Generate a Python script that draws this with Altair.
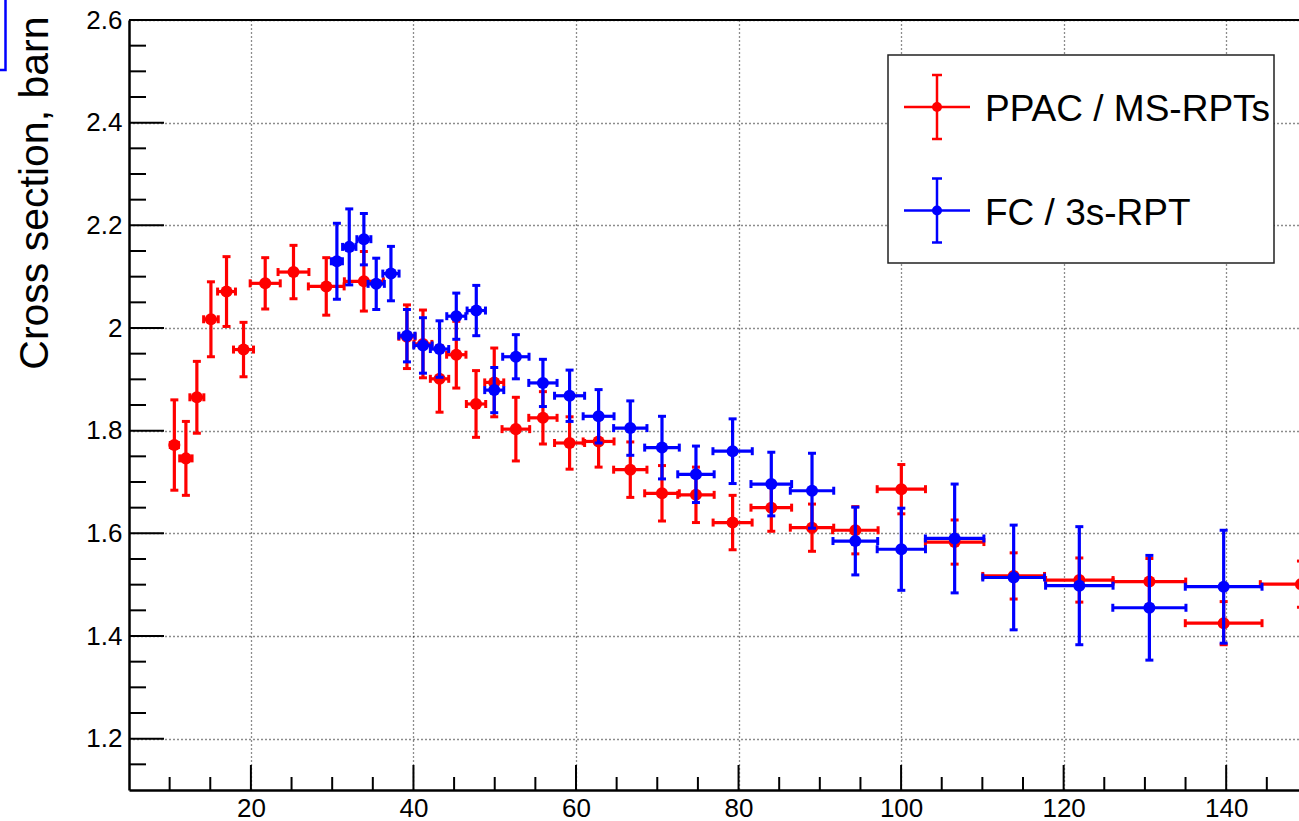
import altair as alt
import pandas as pd

# PPAC / MS-RPTs : energy (x), cross section (y), half-widths
red_x = [10.58, 12.0, 13.35, 15.08, 17.0, 19.09, 21.76, 25.24, 29.27, 33.9,
         39.2, 41.17, 43.21, 45.27, 47.7, 49.94, 52.6, 55.93, 59.21, 62.78,
         66.68, 70.58, 74.76, 79.27, 84.03, 89.04, 94.37, 100.03, 106.59, 113.85,
         121.93, 130.55, 139.69, 149.2]
red_y = [1.772, 1.746, 1.865, 2.017, 2.071, 1.958, 2.087, 2.109, 2.081, 2.091,
         1.983, 1.969, 1.901, 1.948, 1.852, 1.894, 1.803, 1.825, 1.776, 1.779,
         1.724, 1.678, 1.675, 1.621, 1.650, 1.611, 1.606, 1.686, 1.583, 1.517,
         1.509, 1.506, 1.425, 1.501]
red_ex = [0.5, 0.76, 0.86, 0.9, 1.1, 1.23, 1.85, 1.9, 2.2, 2.4,
          1.0, 1.1, 1.13, 1.19, 1.19, 1.17, 1.7, 1.74, 1.85, 1.9,
          2.05, 2.13, 2.24, 2.4, 2.5, 2.67, 2.8, 2.97, 3.6, 3.8,
          4.15, 4.47, 4.72, 5.0]
red_ey = [0.088, 0.072, 0.070, 0.073, 0.068, 0.053, 0.050, 0.052, 0.056, 0.058,
          0.062, 0.066, 0.065, 0.065, 0.065, 0.067, 0.062, 0.051, 0.051, 0.050,
          0.054, 0.054, 0.054, 0.053, 0.046, 0.046, 0.046, 0.048, 0.043, 0.045,
          0.043, 0.045, 0.042, 0.045]

# FC / 3s-RPT
blue_x = [30.58, 32.1, 33.9, 35.42, 37.23, 39.2, 41.17, 43.21, 45.27, 47.73,
          49.94, 52.6, 55.93, 59.21, 62.78, 66.68, 70.58, 74.76, 79.27, 84.03,
          89.04, 94.37, 100.03, 106.59, 113.85, 121.93, 130.55, 139.69]
blue_y = [2.130, 2.158, 2.173, 2.086, 2.106, 1.985, 1.966, 1.959, 2.023, 2.034,
          1.879, 1.944, 1.893, 1.868, 1.828, 1.805, 1.767, 1.715, 1.760, 1.696,
          1.683, 1.585, 1.569, 1.590, 1.514, 1.498, 1.455, 1.496]
blue_ex = [0.68, 0.82, 0.86, 1.0, 1.0, 1.0, 1.13, 1.13, 1.17, 1.13,
           1.17, 1.62, 1.74, 1.85, 1.9, 2.05, 2.13, 2.24, 2.42, 2.5,
           2.67, 2.75, 2.97, 3.6, 3.8, 4.15, 4.5, 4.72]
blue_ey = [0.074, 0.074, 0.050, 0.050, 0.053, 0.051, 0.054, 0.055, 0.045, 0.049,
           0.044, 0.043, 0.046, 0.050, 0.052, 0.053, 0.061, 0.055, 0.063, 0.062,
           0.073, 0.066, 0.080, 0.106, 0.102, 0.115, 0.102, 0.110]

series_names = ["PPAC / MS-RPTs", "FC / 3s-RPT"]
series_colors = ["#ff0000", "#0000ff"]

# axis tick values
x_major = [20, 40, 60, 80, 100, 120, 140]
x_minor = [10, 15, 25, 30, 35, 45, 50, 55, 65, 70, 75, 85, 90, 95,
           105, 110, 115, 125, 130, 135, 145]
y_major = [1.2, 1.4, 1.6, 1.8, 2.0, 2.2, 2.4, 2.6]
y_minor = [1.15, 1.25, 1.3, 1.35, 1.45, 1.5, 1.55, 1.65, 1.7, 1.75, 1.85,
           1.9, 1.95, 2.05, 2.1, 2.15, 2.25, 2.3, 2.35, 2.45, 2.5, 2.55]

FONT = "Liberation Sans"
W, H = 1170, 770
xs = alt.Scale(domain=[5, 148.96], nice=False, zero=False)
ys = alt.Scale(domain=[1.1, 2.6], nice=False, zero=False)

common_axis = dict(
    ticks=False,
    labelFont=FONT, labelFontSize=26, labelColor="black", labelFlush=False,
    labelFontWeight="normal",
    domainColor="black", domainWidth=2.5,
    grid=True, gridColor="black", gridDash=[1, 3], gridWidth=1.3, gridOpacity=0.9,
)

# the same axis definition is given to every layer, so the shared axis merges cleanly
x_axis = alt.Axis(values=x_major, format="d", title="",
                  labelPadding=5, labelBaseline="top", **common_axis)
y_axis = alt.Axis(values=y_major, format=".1~f", labelPadding=7,
                  title="Cross section, barn", titleFont=FONT, titleFontSize=41,
                  titleFontWeight="normal", titleColor="black",
                  titleAngle=270, titleAlign="right", titleBaseline="alphabetic",
                  titleX=-82, titleY=-4, **common_axis)


def XN(f):
    return alt.X(f"{f}:Q", scale=xs, axis=x_axis)


def YN(f):
    return alt.Y(f"{f}:Q", scale=ys, axis=y_axis)


def frame_layers():
    ymaj = alt.Chart(pd.DataFrame({"v": y_major})).mark_rule(
        color="black", strokeWidth=2).encode(
        y=YN("v"), x=alt.value(0), x2=alt.value(35))
    ymin = alt.Chart(pd.DataFrame({"v": y_minor})).mark_rule(
        color="black", strokeWidth=2).encode(
        y=YN("v"), x=alt.value(0), x2=alt.value(17))
    xmaj = alt.Chart(pd.DataFrame({"v": x_major})).mark_rule(
        color="black", strokeWidth=2).encode(
        x=XN("v"), y=alt.value(H), y2=alt.value(H - 25))
    xmin = alt.Chart(pd.DataFrame({"v": x_minor})).mark_rule(
        color="black", strokeWidth=2).encode(
        x=XN("v"), y=alt.value(H), y2=alt.value(H - 13))
    top = alt.Chart(pd.DataFrame({"v": [0]})).mark_rule(
        color="black", strokeWidth=2).encode(
        x=alt.value(0), x2=alt.value(W), y=alt.value(0))
    corner = alt.Chart(pd.DataFrame({"v": [0]})).mark_rect(
        fill="transparent", stroke="#0000ff", strokeWidth=2.5).encode(
        x=alt.value(-150), x2=alt.value(-123.5), y=alt.value(-40), y2=alt.value(50))
    return [ymaj, ymin, xmaj, xmin, top, corner]


def series_layers(xv, yv, exv, eyv, color):
    df = pd.DataFrame({"x": xv, "y": yv, "ex": exv, "ey": eyv})
    base = alt.Chart(df).transform_calculate(
        xlo="datum.x - datum.ex", xhi="datum.x + datum.ex",
        ylo="datum.y - datum.ey", yhi="datum.y + datum.ey")

    vbar = base.mark_rule(color=color, strokeWidth=3.2, clip=True).encode(
        x=XN("x"), y=YN("ylo"), y2="yhi:Q")
    hbar = base.mark_rule(color=color, strokeWidth=3.2, clip=True).encode(
        x=XN("xlo"), x2="xhi:Q", y=YN("y"))
    caps = []
    for f in ("ylo", "yhi"):
        caps.append(base.mark_tick(color=color, orient="horizontal", size=8,
                                   thickness=3, opacity=1, clip=True).encode(
            x=XN("x"), y=YN(f)))
    for f in ("xlo", "xhi"):
        caps.append(base.mark_tick(color=color, orient="vertical", size=8,
                                   thickness=3, opacity=1, clip=True).encode(
            x=XN(f), y=YN("y")))
    pts = base.mark_circle(color=color, size=145, opacity=1, clip=True).encode(
        x=XN("x"), y=YN("y"))
    return [vbar, hbar] + caps + [pts]


def legend_layers():
    box = alt.Chart(pd.DataFrame({"v": [0]})).mark_rect(
        fill="white", stroke="#222222", strokeWidth=1.5).encode(
        x=alt.value(759), x2=alt.value(1145), y=alt.value(35), y2=alt.value(243))
    out = [box]
    cx = 808
    for name, color, cy in zip(series_names, series_colors, [87, 190.5]):
        c = alt.Chart(pd.DataFrame({"label": [name]}))
        out += [
            c.mark_rule(color=color, strokeWidth=2.5).encode(
                x=alt.value(cx - 33), x2=alt.value(cx + 33), y=alt.value(cy)),
            c.mark_rule(color=color, strokeWidth=2.5).encode(
                x=alt.value(cx), y=alt.value(cy - 32), y2=alt.value(cy + 32)),
            c.mark_rule(color=color, strokeWidth=2.5).encode(
                x=alt.value(cx - 5), x2=alt.value(cx + 5), y=alt.value(cy - 32)),
            c.mark_rule(color=color, strokeWidth=2.5).encode(
                x=alt.value(cx - 5), x2=alt.value(cx + 5), y=alt.value(cy + 32)),
            c.mark_circle(color=color, size=100, opacity=1).encode(
                x=alt.value(cx), y=alt.value(cy)),
            c.mark_text(align="left", baseline="alphabetic", font=FONT,
                        fontSize=37, color="black").encode(
                x=alt.value(856), y=alt.value(cy + 14), text="label:N"),
        ]
    return out


layers = (frame_layers()
          + series_layers(red_x, red_y, red_ex, red_ey, series_colors[0])
          + series_layers(blue_x, blue_y, blue_ex, blue_ey, series_colors[1])
          + legend_layers())

chart = alt.layer(*layers).properties(
    width=W, height=H,
    padding={"left": 129, "top": 20, "right": 0, "bottom": 31},
    autosize=alt.AutoSizeParams(type="none"),
    background="white",
).configure_view(
    stroke=None
)

chart.save("out.html", embed_options={"renderer": "svg", "actions": False})
